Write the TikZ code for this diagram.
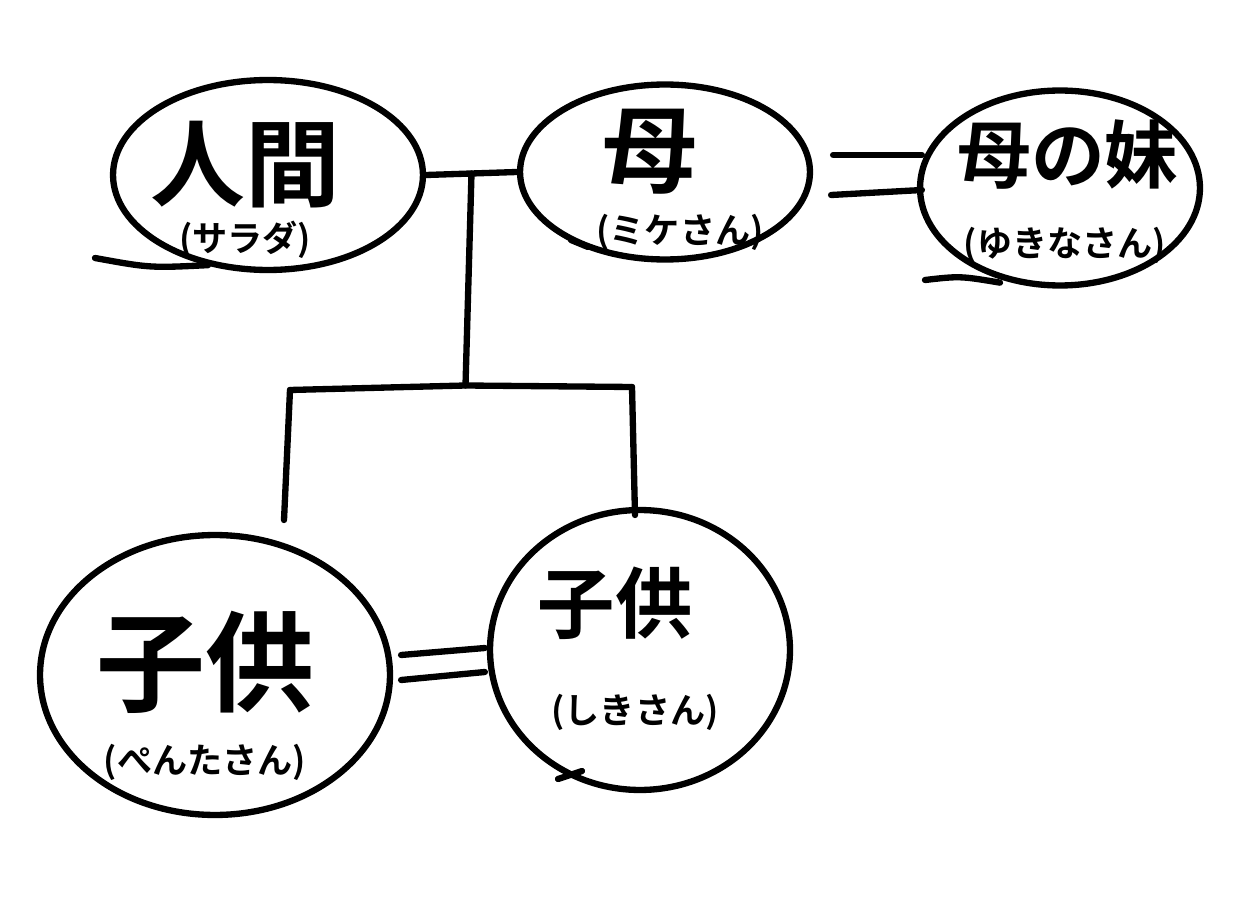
\documentclass[tikz,border=0pt]{standalone}
\usepackage{fontspec}
\newfontfamily\jp{Noto Sans CJK JP}[BoldFont={* Bold}]
\usetikzlibrary{shapes.geometric,calc}
\begin{document}
\begin{tikzpicture}[x=0.02cm,y=-0.02cm,
  pen/.style={line width=3.6pt,line cap=round,line join=round},
  oval/.style={ellipse,draw,pen,inner sep=0pt},
  bigtxt/.style={font=\jp\bfseries\fontsize{54}{60}\selectfont},
  subtxt/.style={font=\jp\bfseries\fontsize{20}{24}\selectfont}]
\useasboundingbox (0,0) rectangle (1242,922);
% ovals
\node[oval,minimum width=6.2cm,minimum height=3.8cm] (ningen) at (268,175) {};
\node[oval,minimum width=5.8cm,minimum height=3.5cm] (haha) at (665,172) {};
\node[oval,minimum width=5.6cm,minimum height=3.9cm] (oba) at (1060,188) {};
\node[oval,minimum width=7.0cm,minimum height=5.6cm] (lc) at (215,675) {};
\node[oval,minimum width=6.0cm,minimum height=5.6cm] (rc) at (640,650) {};
% texts
\node[bigtxt] (t1) at (245,165) {人間};
\node[subtxt] (s1) at (245,240) {(サラダ)};
\node[bigtxt] (t2) at (650,152) {母};
\node[subtxt] (s2) at (680,232) {(ミケさん)};
\node[font=\jp\bfseries\fontsize{42}{48}\selectfont] (t3) at (1068,155) {母の妹};
\node[subtxt] (s3) at (1065,245) {(ゆきなさん)};
\node[font=\jp\bfseries\fontsize{62}{70}\selectfont] (t4) at (205,662) {子供};
\node[subtxt] (s4) at (205,762) {(ぺんたさん)};
\node[font=\jp\bfseries\fontsize{44}{50}\selectfont] (t5) at (615,603) {子供};
\node[subtxt] (s5) at (635,712) {(しきさん)};
% tails of the hand-drawn ovals
\draw[pen] (95,258) .. controls (150,268) .. ($(ningen.south)+(-60,-8)$);
\draw[pen] (571,240) -- (588,247);
\draw[pen] (925,280) .. controls (960,276) .. ($(oba.south)+(-60,-6)$);
\draw[pen] (558,779) -- (582,771);
% marriage line
\draw[pen] (ningen.east) -- (haha.west);
\coordinate (jt) at ($(ningen.east)!0.5!(haha.west)$);
\coordinate (jb) at ($(jt)+(-6,212)$);
\draw[pen] (jt) -- (jb);
\coordinate (lt) at (290,390);
\coordinate (rt) at (632,387);
\draw[pen] (lt) -- (jb) -- (rt);
\coordinate (le) at (284,520);
\coordinate (re) at (635,515);
\draw[pen] (lt) -- (le);
\draw[pen] (rt) -- (re);
% double lines
\draw[pen] ($(haha.east)+(20,-17)$) -- ($(oba.west)+(5,-33)$);
\draw[pen] ($(haha.east)+(18,23)$) -- ($(oba.west)+(5,2)$);
\draw[pen] ($(lc.east)+(8,-20)$) -- ($(rc.west)+(-2,-2)$);
\draw[pen] ($(lc.east)+(8,5)$) -- ($(rc.west)+(-2,22)$);
\end{tikzpicture}
\end{document}
